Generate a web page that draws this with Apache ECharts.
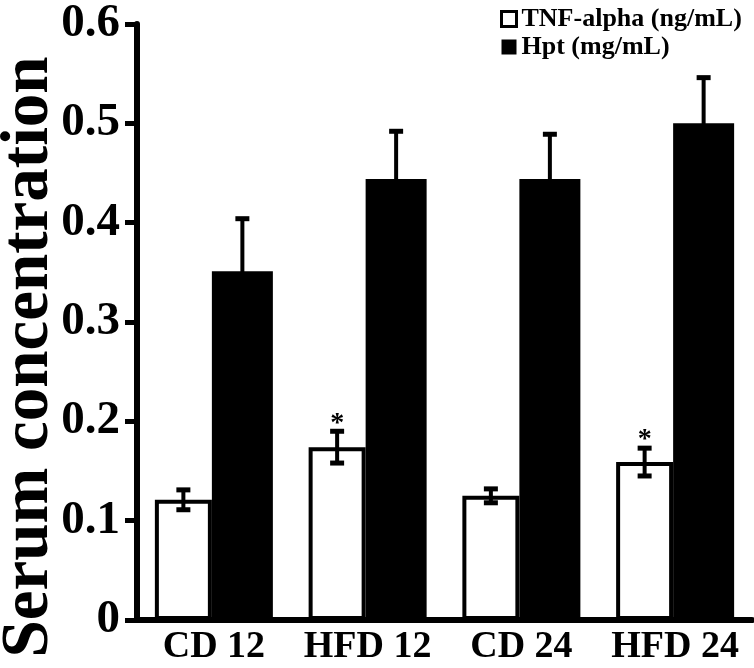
<!DOCTYPE html>
<html>
<head>
<meta charset="utf-8">
<script src="https://cdn.jsdelivr.net/npm/echarts@6/dist/echarts.min.js"></script>
<style>html,body{margin:0;padding:0;background:#fff}#c{width:754px;height:668px}</style>
</head>
<body>
<div id="c"></div>
<script>
const categories = ['CD 12', 'HFD 12', 'CD 24', 'HFD 24'];
const tnf = [0.121, 0.174, 0.125, 0.159];
const tnfErr = [0.010, 0.016, 0.007, 0.014];
const hpt = [0.351, 0.444, 0.444, 0.500];
const hptErr = [0.053, 0.048, 0.045, 0.046];
const significance = ['', '*', '', '*'];
const yTicks = [0, 0.1, 0.2, 0.3, 0.4, 0.5, 0.6];
const seriesNames = ['TNF-alpha (ng/mL)', 'Hpt (mg/mL)'];
const yTitle = 'Serum concentration';

const FONT = "'Liberation Serif', 'Times New Roman', serif";
const W_WHITE = 57, W_BLACK = 61;
const OFF_WHITE = -(W_WHITE + W_BLACK) / 2 + W_WHITE / 2;
const OFF_BLACK = (W_WHITE + W_BLACK) / 2 - W_BLACK / 2;

function errRenderer(offset, sigs) {
  return function (params, api) {
    const i = api.value(0), v = api.value(1), e = api.value(2);
    const c = api.coord([i, v]);
    const hi = api.coord([i, v + e]);
    const lo = api.coord([i, v - e]);
    const x = c[0] + offset;
    const st = { stroke: '#000', lineWidth: 4 };
    const capSt = { stroke: '#000', lineWidth: 5 };
    const children = [
      { type: 'line', shape: { x1: x, y1: hi[1], x2: x, y2: lo[1] }, style: st },
      { type: 'line', shape: { x1: x - 7, y1: hi[1], x2: x + 7, y2: hi[1] }, style: capSt },
      { type: 'line', shape: { x1: x - 7, y1: lo[1], x2: x + 7, y2: lo[1] }, style: capSt }
    ];
    if (sigs && sigs[params.dataIndex]) {
      children.push({ type: 'text', x: x, y: hi[1] - 8,
        style: { text: sigs[params.dataIndex], fill: '#000', font: 'bold 28px ' + FONT, align: 'center', verticalAlign: 'middle' } });
    }
    return { type: 'group', children: children };
  };
}

const chart = echarts.init(document.getElementById('c'));
chart.setOption({
  animation: false,
  backgroundColor: '#fff',
  grid: { left: 137, right: 2, top: 24, bottom: 48 },
  legend: {
    orient: 'vertical', left: 495, top: 1, itemWidth: 15, itemHeight: 15, itemGap: 2,
    textStyle: { fontFamily: FONT, fontWeight: 'bold', fontSize: 26, color: '#000' },
    data: [
      { name: seriesNames[0], icon: 'rect', itemStyle: { color: '#fff', borderColor: '#000', borderWidth: 3 } },
      { name: seriesNames[1], icon: 'rect', itemStyle: { color: '#000', borderWidth: 0 } }
    ]
  },
  graphic: [{
    type: 'text', x: 30, y: 357, rotation: Math.PI / 2,
    style: { text: yTitle, font: 'bold 67px ' + FONT, fill: '#000', align: 'center', verticalAlign: 'middle' }
  }],
  xAxis: {
    type: 'category', data: categories,
    axisLine: { lineStyle: { color: '#000', width: 6 } },
    axisTick: { show: false },
    axisLabel: { interval: 0, color: '#000', fontFamily: FONT, fontWeight: 'bold', fontSize: 38, margin: 8 }
  },
  yAxis: {
    type: 'value', min: 0, max: 0.6, interval: 0.1,
    axisLine: { show: true, lineStyle: { color: '#000', width: 6 } },
    axisTick: { show: true, length: 12, lineStyle: { color: '#000', width: 5 } },
    splitLine: { show: false },
    axisLabel: { color: '#000', fontFamily: FONT, fontWeight: 'bold', fontSize: 47, margin: 17,
      formatter: v => { const t = yTicks.find(x => Math.abs(x - v) < 1e-9); return t === 0 ? '0' : String(t); } }
  },
  series: [
    { name: seriesNames[0], type: 'bar', data: tnf, barWidth: W_WHITE, barGap: '0%',
      itemStyle: { color: '#fff', borderColor: '#000', borderWidth: 4 } },
    { name: seriesNames[1], type: 'bar', data: hpt, barWidth: W_BLACK, barGap: '0%',
      itemStyle: { color: '#000', borderColor: '#000', borderWidth: 0 } },
    { type: 'custom', z: 5, renderItem: errRenderer(OFF_WHITE, significance),
      data: tnf.map((v, i) => [i, v, tnfErr[i]]), encode: { x: 0, y: 1 } },
    { type: 'custom', z: 5, renderItem: errRenderer(OFF_BLACK, null),
      data: hpt.map((v, i) => [i, v, hptErr[i]]), encode: { x: 0, y: 1 } }
  ]
});
</script>
</body>
</html>
